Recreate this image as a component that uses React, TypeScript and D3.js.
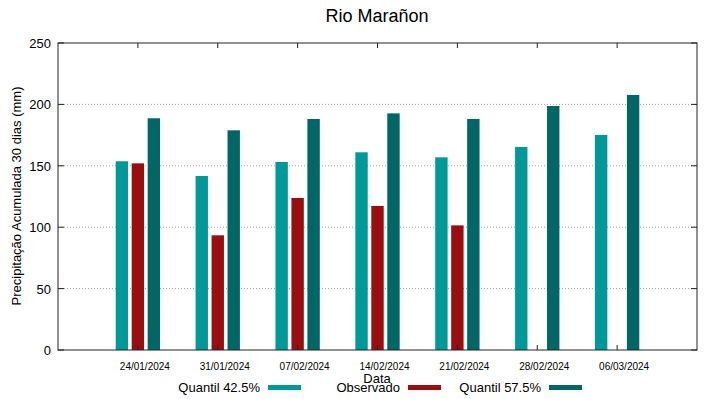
import React, { useEffect, useRef } from "react";
import * as d3 from "d3";

const dates = ["24/01/2024", "31/01/2024", "07/02/2024", "14/02/2024", "21/02/2024", "28/02/2024", "06/03/2024"];
const q425 = [153.7, 141.7, 153.1, 161, 156.9, 165.3, 175.1];
const observed = [152, 93.4, 123.8, 117.3, 101.5, null, null];
const q575 = [188.7, 178.9, 188.1, 192.7, 188.1, 198.7, 207.7];
const yTicks = [0, 50, 100, 150, 200, 250];

const seriesNames = ["Quantil 42.5%", "Observado", "Quantil 57.5%"];
const colors = ["#009999", "#990f0f", "#006666"];

const drawChart = (node: SVGSVGElement) => {
  const svg = d3.select(node);
  svg.selectAll("*").remove();
  const left = 58, right = 697, top = 43, bottom = 350;
  const font = "'Liberation Sans', Arial, sans-serif";

  const x = d3.scaleLinear().domain([-1, 7]).range([left, right]);
  const y = d3.scaleLinear().domain([0, 250]).range([bottom, top]);

  // grid
  svg.append("g")
    .selectAll("line")
    .data(yTicks.filter((t) => t > 0 && t < 250))
    .enter()
    .append("line")
    .attr("x1", left).attr("x2", right)
    .attr("y1", (d) => y(d)).attr("y2", (d) => y(d))
    .attr("stroke", "#a0a0a0").attr("stroke-width", 1)
    .attr("stroke-dasharray", "1,2");

  const all = [q425, observed, q575];
  const offsets = [-0.2, 0, 0.2];
  const bw = x(0.155) - x(0);
  all.forEach((series, si) => {
    svg.append("g")
      .selectAll("rect")
      .data(series.map((v, i) => ({ v, i })).filter((d) => d.v != null))
      .enter()
      .append("rect")
      .attr("x", (d) => x(d.i + offsets[si]) - bw / 2)
      .attr("y", (d) => y(d.v as number))
      .attr("width", bw)
      .attr("height", (d) => bottom - y(d.v as number))
      .attr("fill", colors[si]);
  });

  // y axis labels + ticks
  const ya = svg.append("g");
  yTicks.forEach((t) => {
    ya.append("text").attr("x", 51).attr("y", y(t) + 5)
      .attr("text-anchor", "end").attr("font-family", font).attr("font-size", 13)
      .text(t);
    ya.append("line").attr("x1", left).attr("x2", left + 6).attr("y1", y(t)).attr("y2", y(t)).attr("stroke", "#222");
    ya.append("line").attr("x1", right - 6).attr("x2", right).attr("y1", y(t)).attr("y2", y(t)).attr("stroke", "#222");
  });

  // x labels + ticks
  const xa = svg.append("g");
  dates.forEach((dt, i) => {
    xa.append("text").attr("x", x(i) + 7).attr("y", 370)
      .attr("text-anchor", "middle").attr("font-family", font).attr("font-size", 10)
      .text(dt);
    xa.append("line").attr("x1", x(i)).attr("x2", x(i)).attr("y1", bottom).attr("y2", bottom - 5).attr("stroke", "#222");
    xa.append("line").attr("x1", x(i)).attr("x2", x(i)).attr("y1", top).attr("y2", top + 5).attr("stroke", "#222");
  });

  // border
  svg.append("rect").attr("x", left).attr("y", top).attr("width", right - left).attr("height", bottom - top)
    .attr("fill", "none").attr("stroke", "#222").attr("stroke-width", 1);

  svg.append("text").attr("x", 377).attr("y", 22).attr("text-anchor", "middle")
    .attr("font-family", font).attr("font-size", 18).text("Rio Marañon");

  svg.append("text").attr("transform", "translate(21,196) rotate(-90)").attr("text-anchor", "middle")
    .attr("font-family", font).attr("font-size", 13).text("Precipitação Acumulada 30 dias (mm)");

  svg.append("text").attr("x", 377).attr("y", 383).attr("text-anchor", "middle")
    .attr("font-family", font).attr("font-size", 13).text("Data");

  // legend
  const legendX = [260, 400, 541];
  seriesNames.forEach((name, i) => {
    svg.append("text").attr("x", legendX[i]).attr("y", 392).attr("text-anchor", "end")
      .attr("font-family", font).attr("font-size", 13).text(name);
    svg.append("rect").attr("x", legendX[i] + 8).attr("y", 385).attr("width", 33).attr("height", 5)
      .attr("fill", colors[i]);
  });
};

const App = () => {
  const ref = useRef<SVGSVGElement>(null);
  useEffect(() => {
    if (ref.current) drawChart(ref.current);
  });
  return (
    <svg ref={ref} width={719} height={399} style={{ position: "absolute", left: 0, top: 0, background: "#fff" }} />
  );
};

export default App;
